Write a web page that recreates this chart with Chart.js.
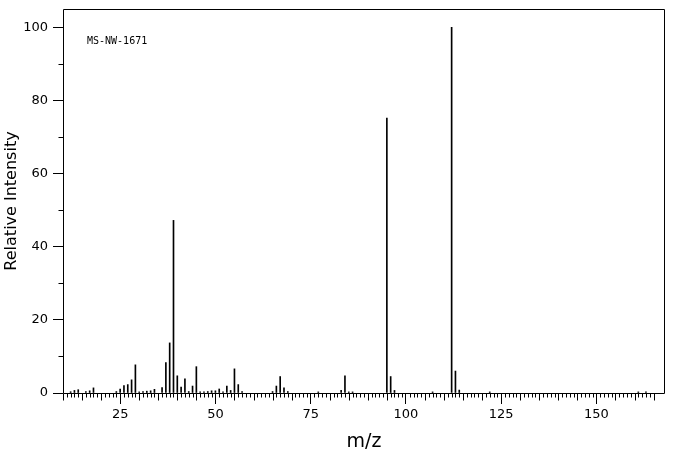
<!DOCTYPE html>
<html>
<head>
<meta charset="utf-8">
<script src="https://cdn.jsdelivr.net/npm/chart.js@4/dist/chart.umd.min.js"></script>
<style>
  html, body { margin: 0; padding: 0; background: #fff; }
</style>
</head>
<body>
<canvas id="chart" width="676" height="455"></canvas>
<script>
// Spectrum data (m/z and relative intensity)
const massToCharge = [12, 13, 14, 16, 17, 18, 24, 25, 26, 27, 28, 29, 30, 31, 32, 33, 34, 36, 37, 38, 39, 40,
    41, 42, 43, 44, 45, 46, 47, 48, 49, 50, 51, 52, 53, 54, 55, 56, 57, 65, 66, 67, 68, 69, 77, 83, 84, 85, 86,
    95, 96, 97, 107, 112, 113, 114, 122, 161, 163];
const intensity = [0.35, 0.7, 0.9, 0.4, 0.6, 1.4, 0.4, 1.1, 2.0, 2.3, 3.6, 7.7, 0.3, 0.4, 0.5, 0.6, 1.0, 1.5, 8.3, 13.7, 47.2, 4.7,
    1.6, 3.9, 0.4, 1.9, 7.2, 0.3, 0.3, 0.4, 0.6, 0.6, 1.1, 0.3, 1.9, 0.7, 6.6, 2.3, 0.4, 0.4, 1.9, 4.5, 1.4, 0.4, 0.3, 0.7, 4.7, 0.3, 0.3,
    75.2, 4.5, 0.7, 0.3, 100, 6.0, 0.8, 0.3, 0.3, 0.3];

// Axis ticks
const xTickValues = [25, 50, 75, 100, 125, 150];
const yTickValues = [0, 20, 40, 60, 80, 100];
const yMinorTicks = [10, 30, 50, 70, 90];
const sampleLabel = 'MS-NW-1671';

const ctx = document.getElementById('chart').getContext('2d');

// Frame, minor ticks and sample label
const frameAndTicks = {
    id: 'frameAndTicks',
    afterDraw(chart) {
        const { ctx, chartArea: a, scales: { x, y } } = chart;
        ctx.save();
        ctx.strokeStyle = '#000';
        ctx.lineWidth = 1;
        ctx.beginPath();
        const l = Math.round(a.left) + 0.5, r = Math.round(a.right) - 0.5;
        const t = Math.round(a.top) + 0.5, b = Math.round(a.bottom) + 0.5;
        ctx.rect(l, t, r - l, b - t);

        for (let m = 10; m <= 165; m++) {
            if (m % 25 === 0) continue;
            const px = Math.round(x.getPixelForValue(m)) + 0.5;
            const len = m % 5 === 0 ? 7 : 4;
            ctx.moveTo(px, b);
            ctx.lineTo(px, b + len);
        }
        yMinorTicks.forEach(v => {
            const py = Math.round(y.getPixelForValue(v)) + 0.5;
            ctx.moveTo(l, py);
            ctx.lineTo(l - 5, py);
        });
        ctx.stroke();

        ctx.fillStyle = '#000';
        ctx.font = '10px "DejaVu Sans Mono"';
        ctx.textBaseline = 'middle';
        ctx.fillText(sampleLabel, a.left + 24, a.top + 32);
        ctx.restore();
    }
};

new Chart(ctx, {
    type: 'bar',
    data: {
        datasets: [{
            data: massToCharge.map((m, i) => ({ x: m, y: intensity[i] })),
            backgroundColor: '#000',
            borderWidth: 0,
            barThickness: 1
        }]
    },
    options: {
        responsive: false,
        animation: false,
        layout: { padding: { top: 9, right: 11, left: 0, bottom: 0 } },
        plugins: { legend: { display: false }, tooltip: { enabled: false } },
        scales: {
            x: {
                type: 'linear',
                min: 10,
                max: 168,
                offset: false,
                grid: { drawOnChartArea: false, offset: false, tickLength: 11, color: '#000' },
                border: { display: false },
                ticks: { color: '#000', font: { family: 'DejaVu Sans', size: 13 }, padding: 3, maxRotation: 0, autoSkip: false },
                afterBuildTicks: s => { s.ticks = xTickValues.map(v => ({ value: v })); },
                title: { display: true, text: 'm/z', color: '#000', font: { family: 'DejaVu Sans', size: 19 }, padding: { top: 4, bottom: 2 } },
                afterFit: s => { s.height = 62; s.paddingLeft = 0; s.paddingRight = 0; }
            },
            y: {
                min: 0,
                max: 105,
                grid: { drawOnChartArea: false, tickLength: 10, color: '#000' },
                border: { display: false },
                ticks: { color: '#000', font: { family: 'DejaVu Sans', size: 13 }, padding: 5 },
                afterBuildTicks: s => { s.ticks = yTickValues.map(v => ({ value: v })); },
                title: { display: true, text: 'Relative Intensity', color: '#000', font: { family: 'DejaVu Sans', size: 16 }, padding: { top: 2, bottom: 2 } },
                afterFit: s => { s.width = 63; s.paddingTop = 0; s.paddingBottom = 0; }
            }
        }
    },
    plugins: [frameAndTicks]
});
</script>
</body>
</html>
